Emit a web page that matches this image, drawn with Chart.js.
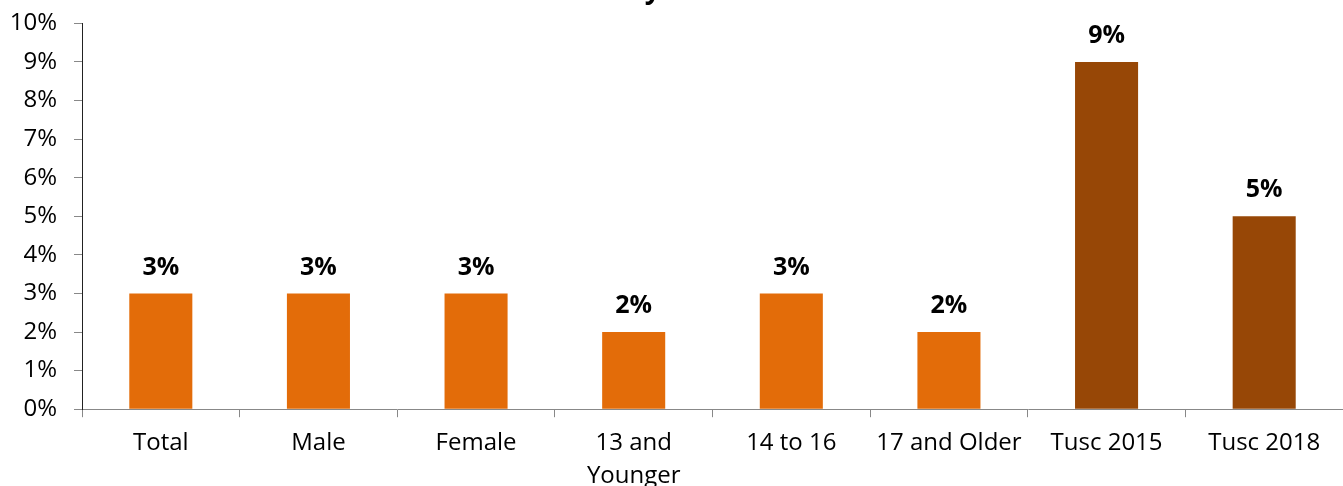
<!DOCTYPE html>
<html>
<head>
<meta charset="utf-8">
<script src="https://cdn.jsdelivr.net/npm/chart.js@4"></script>
<style>
  html, body { margin: 0; padding: 0; background: #fff; overflow: hidden; }
  #wrap { position: absolute; left: 0; top: -8px; width: 1343px; height: 510px; }
</style>
</head>
<body>
<div id="wrap"><canvas id="chart"></canvas></div>
<script>
// chart data
const categories = ['Total', 'Male', 'Female', ['13 and', 'Younger'], '14 to 16', '17 and Older', 'Tusc 2015', 'Tusc 2018'];
const values = [3, 3, 3, 2, 3, 2, 9, 5];
const barColors = ['#E36C09', '#E36C09', '#E36C09', '#E36C09', '#E36C09', '#E36C09', '#974706', '#974706'];
const yTicks = [0, 1, 2, 3, 4, 5, 6, 7, 8, 9, 10];
const chartTitle = 'Tuscarawas County Youth Who Have Used Heroin';

const FONT = '"Open Sans", "Noto Sans", sans-serif';

// percent labels above each bar, plus the title which sits mostly above the page edge
const barLabels = {
    id: 'barLabels',
    afterDatasetsDraw: function (chart) {
        const ctx = chart.ctx;
        const meta = chart.getDatasetMeta(0);
        ctx.save();
        ctx.fillStyle = '#000';
        ctx.textAlign = 'center';
        ctx.textBaseline = 'middle';
        ctx.font = 'bold 25px ' + FONT;
        meta.data.forEach(function (bar, i) {
            ctx.fillText(values[i] + '%', bar.x, bar.y - 26);
        });

        ctx.font = 'bold 28px ' + FONT;
        ctx.textBaseline = 'alphabetic';
        ctx.fillText(chartTitle, 734, 6);
        ctx.restore();
    }
};

new Chart(document.getElementById('chart'), {
    type: 'bar',
    data: {
        labels: categories,
        datasets: [{
            data: values,
            backgroundColor: barColors,
            borderWidth: 0,
            barPercentage: 0.4,
            categoryPercentage: 1.0
        }]
    },
    options: {
        responsive: true,
        maintainAspectRatio: false,
        animation: false,
        layout: { padding: { top: 16, right: 0, left: 0, bottom: 0 } },
        plugins: {
            legend: { display: false },
            tooltip: { enabled: false },
            title: { display: false }
        },
        scales: {
            x: {
                grid: { display: true, offset: true, drawOnChartArea: false, tickLength: 8, color: '#888' },
                border: { color: '#888', width: 1 },
                ticks: { color: '#000', font: { family: FONT, size: 24, lineHeight: 1.35 }, padding: 10, maxRotation: 0, autoSkip: false }
            },
            y: {
                min: 0,
                max: 10,
                afterBuildTicks: function (scale) {
                    scale.ticks = yTicks.map(v => ({ value: v }));
                },
                afterFit: function (scale) { scale.width = 82; },
                grid: { display: true, drawOnChartArea: false, tickLength: 8, color: '#888' },
                border: { color: '#222', width: 1 },
                ticks: {
                    color: '#000',
                    font: { family: FONT, size: 24 },
                    padding: 17,
                    callback: v => v + '%'
                }
            }
        }
    },
    plugins: [barLabels]
});
</script>
</body>
</html>
